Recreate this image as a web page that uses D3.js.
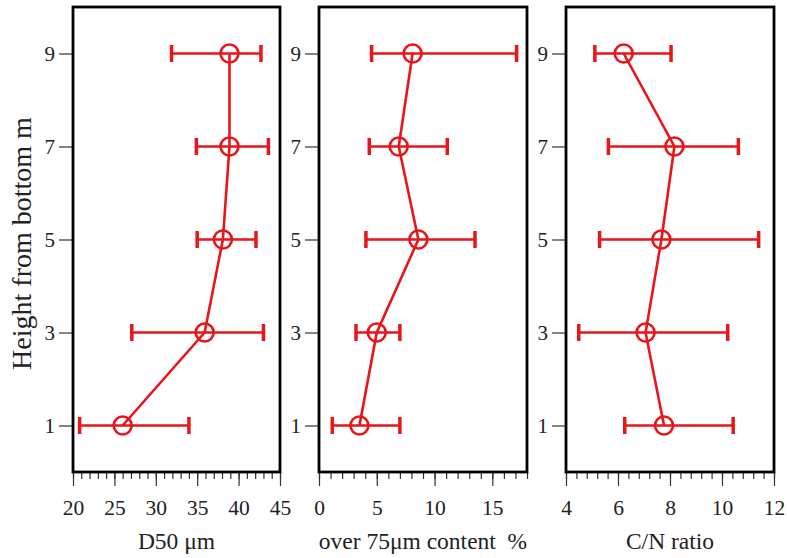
<!DOCTYPE html>
<html><head><meta charset="utf-8">
<script src="https://cdn.jsdelivr.net/npm/d3@7"></script>
<style>
body{margin:0;background:#fff;}
svg{display:block;}
text{font-family:"Liberation Serif","Times New Roman",serif;fill:#222;}
</style></head>
<body>
<script>
const heights = [1, 3, 5, 7, 9];
const yTicks = [1, 3, 5, 7, 9];

const d50Mean = [26.0, 35.9, 38.1, 38.9, 38.9];
const d50Low  = [20.8, 27.1, 35.0, 34.9, 31.9];
const d50High = [34.0, 43.0, 42.1, 43.6, 42.7];

const fineMean = [3.5, 5.0, 8.6, 6.9, 8.1];
const fineLow  = [1.15, 3.2, 4.06, 4.35, 4.55];
const fineHigh = [7.0, 7.0, 13.5, 11.1, 17.1];

const cnMean = [7.77, 7.06, 7.67, 8.17, 6.22];
const cnLow  = [6.26, 4.49, 5.29, 5.63, 5.11];
const cnHigh = [10.43, 10.22, 11.41, 10.63, 8.04];

const panelTitles = ["D50 μm", "over 75μm content  %", "C/N ratio"];
const yTitle = "Height from bottom m";

const panels = [
  {left:73, right:280, domain:[20,45], major:[20,25,30,35,40,45], minorStep:1, mean:d50Mean, low:d50Low, high:d50High, title:panelTitles[0]},
  {left:319, right:527, domain:[0,18], major:[0,5,10,15], minorStep:1, mean:fineMean, low:fineLow, high:fineHigh, title:panelTitles[1]},
  {left:566, right:774, domain:[4,12], major:[4,6,8,10,12], minorStep:0.4, mean:cnMean, low:cnLow, high:cnHigh, title:panelTitles[2]}
];

const W = 787, H = 558, plotTop = 7, plotBottom = 472;
const red = "#e8151b";
const serif = '"Liberation Serif","Times New Roman",serif';
const svg = d3.select("body").append("svg").attr("width", W).attr("height", H);
const y = d3.scaleLinear().domain([0,10]).range([plotBottom, plotTop]);

panels.forEach((p, pi) => {
  const x = d3.scaleLinear().domain(p.domain).range([p.left, p.right]);
  const g = svg.append("g");

  const yAxis = d3.axisLeft(y).tickValues(yTicks).tickSize(14).tickPadding(4).tickFormat(d3.format("d"));
  const ya = g.append("g").attr("transform", `translate(${p.left},0)`).call(yAxis)
    .attr("font-family", serif).attr("font-size", 21);
  ya.select(".domain").remove();
  ya.selectAll(".tick line").attr("stroke", "#333").attr("stroke-width", 1.2);
  ya.selectAll("text").style("font-size", "21px").style("font-family", serif).attr("fill", "#222");

  const n = Math.round((p.domain[1]-p.domain[0])/p.minorStep);
  const minor = d3.range(n+1).map(i => +(p.domain[0] + i*p.minorStep).toFixed(4));
  const xMinor = d3.axisBottom(x).tickValues(minor).tickSize(7).tickFormat("");
  const xm = g.append("g").attr("transform", `translate(0,${plotBottom})`).call(xMinor);
  xm.select(".domain").remove();
  xm.selectAll(".tick line").attr("stroke", "#333").attr("stroke-width", 1.2);

  const xAxis = d3.axisBottom(x).tickValues(p.major).tickSize(14).tickPadding(14).tickFormat(d3.format("d"));
  const xa = g.append("g").attr("transform", `translate(0,${plotBottom})`).call(xAxis)
    .attr("font-family", serif).attr("font-size", 21.5);
  xa.select(".domain").remove();
  xa.selectAll(".tick line").attr("stroke", "#333").attr("stroke-width", 1.2);
  xa.selectAll("text").style("font-size", "21.5px").style("font-family", serif).attr("fill", "#222");

  g.append("rect").attr("x", p.left).attr("y", plotTop).attr("width", p.right-p.left).attr("height", plotBottom-plotTop)
    .attr("fill", "none").attr("stroke", "#000").attr("stroke-width", 2.8);

  g.append("text").attr("x", (p.left+p.right)/2).attr("y", 549).attr("text-anchor", "middle")
    .style("font-size", "23.5px").style("white-space", "pre").text(p.title);

  const data = heights.map((h,i) => ({h, m:p.mean[i], lo:p.low[i], hi:p.high[i]}));
  const eb = g.append("g").attr("stroke", red).attr("stroke-width", 2.6).attr("fill", "none");
  data.forEach(d => {
    eb.append("line").attr("x1", x(d.lo)).attr("x2", x(d.hi)).attr("y1", y(d.h)).attr("y2", y(d.h));
    eb.append("line").attr("x1", x(d.lo)).attr("x2", x(d.lo)).attr("y1", y(d.h)-8.5).attr("y2", y(d.h)+8.5).attr("stroke-width", 3.5);
    eb.append("line").attr("x1", x(d.hi)).attr("x2", x(d.hi)).attr("y1", y(d.h)-8.5).attr("y2", y(d.h)+8.5).attr("stroke-width", 3.5);
  });
  g.append("path").datum(data)
    .attr("d", d3.line().x(d => x(d.m)).y(d => y(d.h)))
    .attr("fill", "none").attr("stroke", red).attr("stroke-width", 2.6);
  g.selectAll("circle.pt").data(data).enter().append("circle")
    .attr("cx", d => x(d.m)).attr("cy", d => y(d.h)).attr("r", 9)
    .attr("fill", "none").attr("stroke", red).attr("stroke-width", 2.6);
});

svg.append("text").attr("transform", `translate(31,${(plotTop+plotBottom)/2+4}) rotate(-90)`)
  .attr("text-anchor", "middle").style("font-size", "28px").text(yTitle);
</script>
</body></html>
